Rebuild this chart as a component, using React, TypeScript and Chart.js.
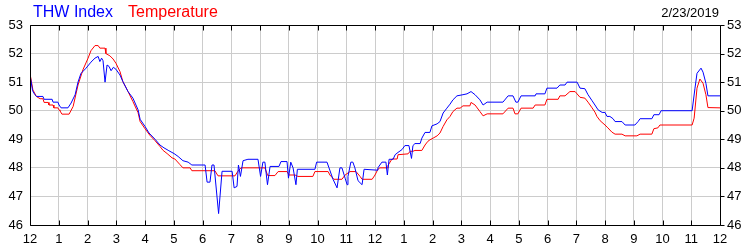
import React, { useEffect, useRef } from "react";
import { Chart, registerables } from "chart.js";

Chart.register(...registerables);

// Hours since midnight (0..24) and values
const thwHours = [
  0.0, 0.09, 0.17, 0.23, 0.45, 0.49, 0.77, 0.8, 0.97, 1.01, 1.04, 1.08, 1.32, 1.43, 1.57, 1.67, 1.77, 1.95,
  2.12, 2.26, 2.37, 2.43, 2.49, 2.54, 2.61, 2.68, 2.75, 2.82, 2.9, 2.99, 3.13, 3.23, 3.41, 3.58, 3.76, 3.83,
  4.0, 4.14, 4.35, 4.52, 4.66, 4.83, 5.01, 5.15, 5.32, 5.5, 5.63, 6.09, 6.16, 6.26, 6.33, 6.4, 6.56, 6.68,
  7.03, 7.1, 7.2, 7.25, 7.32, 7.41, 7.58, 7.93, 8.02, 8.1, 8.17, 8.26, 8.35, 8.66, 8.73, 8.94, 8.99, 9.07,
  9.15, 9.25, 9.3, 9.91, 9.97, 10.33, 10.4, 10.54, 10.68, 10.78, 10.85, 10.96, 11.03, 11.06, 11.16, 11.23,
  11.3, 11.41, 11.55, 11.62, 12.07, 12.1, 12.24, 12.38, 12.43, 12.49, 12.63, 12.7, 12.8, 12.94, 13.04, 13.18,
  13.27, 13.32, 13.39, 13.57, 13.63, 13.74, 13.91, 13.98, 14.16, 14.26, 14.37, 14.5, 14.61, 14.71, 14.85,
  15.06, 15.2, 15.34, 15.48, 15.65, 15.76, 15.9, 16.45, 16.63, 16.8, 16.9, 16.97, 17.08, 17.57, 17.6, 17.91,
  17.98, 18.33, 18.43, 18.61, 18.68, 19.03, 19.13, 19.3, 19.41, 19.55, 19.65, 19.76, 19.9, 20.0, 20.07, 20.17,
  20.28, 20.35, 20.59, 20.7, 21.04, 21.15, 21.22, 21.63, 21.7, 21.88, 21.95, 23.03, 23.13, 23.2, 23.34, 23.41,
  23.51, 23.58, 24.0,
];
const thwValues = [
  51.25, 50.7, 50.56, 50.5, 50.5, 50.4, 50.4, 50.3, 50.3, 50.2, 50.2, 50.1, 50.1, 50.27, 50.56, 51.0, 51.3, 51.49,
  51.7, 51.84, 51.9, 51.72, 51.84, 51.75, 51.0, 51.6, 51.55, 51.4, 51.52, 51.45, 51.25, 51.02, 50.67, 50.44, 50.03, 49.7,
  49.45, 49.22, 49.0, 48.8, 48.7, 48.6, 48.5, 48.4, 48.25, 48.2, 48.1, 48.1, 47.5, 47.5, 48.1, 48.1, 46.4, 47.88,
  47.88, 47.3, 47.35, 48.1, 47.7, 48.25, 48.3, 48.3, 47.7, 48.2, 48.2, 47.41, 48.05, 48.05, 48.22, 48.22, 47.64, 48.2,
  48.0, 47.41, 47.95, 47.95, 48.2, 48.2, 48.0, 47.6, 47.3, 48.0, 48.0, 47.64, 47.41, 47.7, 48.2, 48.2,
  48.0, 47.55, 47.41, 47.95, 47.92, 48.0, 48.2, 48.2, 47.75, 48.3, 48.3, 48.46, 48.54, 48.64, 48.78, 48.78,
  48.33, 48.78, 48.85, 48.85, 49.04, 49.24, 49.24, 49.47, 49.54, 49.62, 49.92, 50.09, 50.23, 50.38, 50.52,
  50.56, 50.59, 50.67, 50.56, 50.38, 50.2, 50.3, 50.3, 50.52, 50.52, 50.3, 50.3, 50.52, 50.52, 50.59, 50.59,
  50.79, 50.79, 50.9, 50.9, 51.0, 51.0, 50.79, 50.77, 50.56, 50.35, 50.2, 50.03, 49.94, 49.94, 49.8, 49.8,
  49.72, 49.62, 49.62, 49.5, 49.5, 49.62, 49.72, 49.72, 49.86, 49.86, 50.0, 50.0, 50.79, 51.31, 51.49, 51.35,
  50.96, 50.52, 50.52,
];

const tempHours = [
  0.0, 0.1, 0.22, 0.35, 0.45, 0.49, 0.63, 0.66, 0.8, 0.83, 0.97, 1.01, 1.04, 1.11, 1.36, 1.5, 1.67, 1.84, 2.02,
  2.12, 2.26, 2.37, 2.43, 2.61, 2.64, 2.78, 2.89, 2.99, 3.13, 3.23, 3.41, 3.58, 3.76, 3.83, 4.0, 4.17, 4.35,
  4.52, 4.63, 4.77, 4.94, 5.04, 5.22, 5.32, 5.57, 5.63, 6.43, 6.54, 7.13, 7.23, 7.34, 8.17, 8.27, 8.52, 8.63,
  8.94, 9.01, 9.22, 9.32, 9.84, 9.91, 10.37, 10.43, 10.57, 10.85, 10.96, 11.13, 11.34, 11.48, 11.55, 11.9,
  12.0, 12.1, 12.17, 12.42, 12.45, 12.59, 12.77, 12.8, 13.15, 13.22, 13.32, 13.39, 13.63, 13.74, 13.84, 13.91,
  14.02, 14.16, 14.26, 14.37, 14.5, 14.61, 14.71, 14.85, 14.96, 15.06, 15.3, 15.34, 15.48, 15.65, 15.76, 15.9,
  16.45, 16.63, 16.8, 16.87, 16.97, 17.08, 17.5, 17.57, 17.91, 17.98, 18.37, 18.43, 18.61, 18.78, 18.96, 19.13,
  19.3, 19.41, 19.55, 19.65, 19.72, 19.83, 20.0, 20.1, 20.24, 20.35, 20.59, 20.7, 21.11, 21.22, 21.63, 21.7,
  21.84, 21.91, 23.03, 23.1, 23.2, 23.3, 23.41, 23.51, 23.58, 24.0,
];
const tempValues = [
  51.3, 50.73, 50.5, 50.42, 50.42, 50.29, 50.29, 50.2, 50.2, 50.1, 50.1, 50.03, 50.0, 49.88, 49.88, 50.15, 50.9, 51.43, 51.84,
  52.1, 52.28, 52.28, 52.19, 52.19, 52.0, 51.92, 51.81, 51.66, 51.37, 51.02, 50.67, 50.32, 49.93, 49.62, 49.37, 49.14, 48.95,
  48.75, 48.61, 48.5, 48.35, 48.31, 48.11, 48.0, 48.0, 47.9, 47.9, 47.72, 47.72, 47.88, 48.0, 48.0, 47.73, 47.73, 47.87,
  47.87, 47.75, 47.75, 47.7, 47.7, 47.87, 47.87, 47.75, 47.6, 47.6, 47.75, 47.87, 47.87, 47.7, 47.6, 47.6,
  47.75, 47.95, 48.0, 48.0, 48.08, 48.31, 48.31, 48.46, 48.49, 48.58, 48.58, 48.61, 48.61, 48.8, 48.93, 48.98,
  49.04, 49.12, 49.22, 49.45, 49.68, 49.8, 49.97, 50.09, 50.09, 50.17, 50.17, 50.29, 50.2, 49.97, 49.82, 49.89,
  49.89, 50.09, 50.09, 49.89, 49.89, 50.09, 50.09, 50.2, 50.2, 50.4, 50.4, 50.52, 50.52, 50.67, 50.67, 50.47,
  50.44, 50.3, 50.1, 49.95, 49.8, 49.65, 49.5, 49.4, 49.25, 49.18, 49.18, 49.12, 49.12, 49.18, 49.18, 49.37,
  49.4, 49.5, 49.5, 49.74, 50.79, 51.11, 50.96, 50.56, 50.11, 50.1,
];

const seriesNames = ["THW Index", "Temperature"];
const seriesColors = ["#0000ff", "#ff0000"];
const dateLabel = "2/23/2019";
const yMin = 46;
const yMax = 53;
const hourTicks = Array.from({ length: 25 }, (_, i) => i);
const yTickValues = [46, 47, 48, 49, 50, 51, 52, 53];

const FONT = "'Liberation Sans', Arial, Helvetica, sans-serif";

const hourLabel = (v: number) => {
  const h = Math.round(v) % 12;
  return h === 0 ? "12" : String(h);
};

const framePlugin = {
  id: "frame",
  afterDraw(chart: any) {
    const { ctx, chartArea, scales } = chart;
    const { left, top, right, bottom } = chartArea;
    const x = scales.x;
    const y = scales.y;
    ctx.save();
    ctx.strokeStyle = "#000";
    ctx.lineWidth = 1;
    const L = Math.round(left) + 0.5;
    const R = Math.round(right) + 0.5;
    const T = Math.round(top) + 0.5;
    const B = Math.round(bottom) + 0.5;
    ctx.beginPath();
    ctx.rect(L, T, R - L, B - T);
    for (const h of hourTicks) {
      const px = Math.round(x.getPixelForValue(h)) + 0.5;
      ctx.moveTo(px, T);
      ctx.lineTo(px, T + 5);
      ctx.moveTo(px, B);
      ctx.lineTo(px, B - 5);
    }
    for (const v of yTickValues) {
      const py = Math.round(y.getPixelForValue(v)) + 0.5;
      ctx.moveTo(R, py);
      ctx.lineTo(R + 4, py);
    }
    ctx.stroke();

    // legend-like title texts
    ctx.textBaseline = "alphabetic";
    ctx.font = `16px ${FONT}`;
    ctx.textAlign = "left";
    ctx.fillStyle = seriesColors[0];
    ctx.fillText(seriesNames[0], 33, 17);
    ctx.fillStyle = seriesColors[1];
    ctx.fillText(seriesNames[1], 128, 17);
    ctx.font = `13px ${FONT}`;
    ctx.fillStyle = "#000";
    ctx.textAlign = "right";
    ctx.fillText(dateLabel, 719, 17);
    ctx.restore();
  },
};

export default function App() {
  const ref = useRef<HTMLCanvasElement | null>(null);

  useEffect(() => {
    document.body.style.margin = "0";
    const canvas = ref.current;
    if (!canvas) return;
    const chart = new Chart(canvas, {
      type: "line",
      data: {
        datasets: [
          {
            label: seriesNames[0],
            data: thwHours.map((h, i) => ({ x: h, y: thwValues[i] })),
            borderColor: seriesColors[0],
            borderWidth: 1,
            pointRadius: 0,
            tension: 0,
            fill: false,
          },
          {
            label: seriesNames[1],
            data: tempHours.map((h, i) => ({ x: h, y: tempValues[i] })),
            borderColor: seriesColors[1],
            borderWidth: 1,
            pointRadius: 0,
            tension: 0,
            fill: false,
          },
        ],
      },
      options: {
        responsive: false,
        animation: false,
        devicePixelRatio: 1,
        layout: { padding: { top: 25, left: 0, right: 0, bottom: 0 } },
        plugins: {
          legend: { display: false },
          tooltip: { enabled: false },
          title: { display: false },
        },
        scales: {
          x: {
            type: "linear",
            position: "bottom",
            min: 0,
            max: 24,
            afterFit: (s: any) => {
              s.height = 25;
            },
            afterBuildTicks: (s: any) => {
              s.ticks = hourTicks.map((v) => ({ value: v }));
            },
            ticks: {
              stepSize: 1,
              autoSkip: false,
              maxRotation: 0,
              padding: 7,
              color: "#000",
              font: { family: FONT, size: 13 },
              callback: (v: any) => hourLabel(Number(v)),
            },
            grid: { color: "#cccccc", drawTicks: false },
            border: { display: false },
          },
          y: {
            type: "linear",
            position: "left",
            min: yMin,
            max: yMax,
            afterFit: (s: any) => {
              s.width = 30;
            },
            afterBuildTicks: (s: any) => {
              s.ticks = yTickValues.map((v) => ({ value: v }));
            },
            ticks: {
              stepSize: 1,
              padding: 7,
              color: "#000",
              font: { family: FONT, size: 13 },
            },
            grid: { color: "#cccccc", drawTicks: false },
            border: { display: false },
          },
          y2: {
            type: "linear",
            position: "right",
            min: yMin,
            max: yMax,
            afterFit: (s: any) => {
              s.width = 30;
            },
            afterBuildTicks: (s: any) => {
              s.ticks = yTickValues.map((v) => ({ value: v }));
            },
            ticks: {
              stepSize: 1,
              padding: 7,
              color: "#000",
              font: { family: FONT, size: 13 },
            },
            grid: { display: false, drawTicks: false },
            border: { display: false },
          },
        },
      },
      plugins: [framePlugin],
    });
    return () => chart.destroy();
  }, []);

  return (
    <div style={{ position: "absolute", left: 0, top: 0, width: 750, height: 250 }}>
      <canvas ref={ref} width={750} height={250} style={{ width: 750, height: 250, display: "block" }} />
    </div>
  );
}
